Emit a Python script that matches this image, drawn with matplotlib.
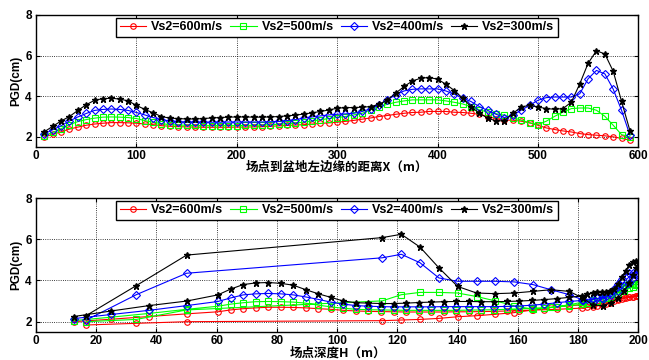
import matplotlib
matplotlib.use("Agg")
import matplotlib.pyplot as plt

# ====== DATA ======
# distance to the left basin edge X (m), one point per site
dist_x = [8.3, 16.7, 25.0, 33.3, 41.7, 50.0, 58.3, 66.7, 75.0, 83.3,
          91.7, 100.0, 108.3, 116.7, 125.0, 133.3, 141.7, 150.0, 158.3, 166.7,
          175.0, 183.3, 191.7, 200.0, 208.3, 216.7, 225.0, 233.3, 241.7, 250.0,
          258.3, 266.7, 275.0, 283.3, 291.7, 300.0, 308.3, 316.7, 325.0, 333.3,
          341.7, 350.0, 358.3, 366.7, 375.0, 383.3, 391.7, 400.0, 408.3, 416.7,
          425.0, 433.3, 441.7, 450.0, 458.3, 466.7, 475.0, 483.3, 491.7, 500.0,
          508.3, 516.7, 525.0, 533.3, 541.7, 550.0, 558.3, 566.7, 575.0, 583.3,
          591.7]

# depth H (m) at the same sites
depth_h = [12.5, 25.0, 37.5, 50.0, 60.4, 64.6, 68.8, 72.9, 77.1, 81.3,
           85.4, 89.6, 93.8, 97.9, 102.1, 106.3, 110.4, 114.6, 118.8, 122.9,
           127.1, 131.3, 135.4, 139.6, 143.8, 147.9, 152.1, 156.3, 160.4, 164.6,
           168.8, 172.9, 177.1, 181.3, 183.1, 184.8, 186.4, 187.9, 189.3, 190.6,
           191.9, 193.2, 194.5, 195.8, 197.0, 198.1, 199.1, 200.0, 199.3, 198.3,
           197.0, 195.4, 193.4, 191.0, 188.2, 185.0, 181.5, 177.1, 171.0, 165.0,
           158.8, 152.5, 146.3, 140.0, 133.8, 127.5, 121.3, 115.0, 50.0, 33.3,
           16.7]

pgd_600 = [2.0, 2.12, 2.25, 2.38, 2.48, 2.57, 2.63, 2.67, 2.7, 2.7,
           2.69, 2.67, 2.63, 2.6, 2.55, 2.52, 2.5, 2.49, 2.48, 2.47,
           2.47, 2.47, 2.47, 2.48, 2.48, 2.49, 2.5, 2.52, 2.54, 2.56,
           2.58, 2.6, 2.63, 2.66, 2.69, 2.72, 2.76, 2.81, 2.87, 2.93,
           3.0, 3.05, 3.11, 3.16, 3.2, 3.21, 3.25, 3.25, 3.25, 3.21,
           3.2, 3.16, 3.11, 3.0, 2.9, 2.82, 2.82, 2.77, 2.69, 2.57,
           2.44, 2.36, 2.29, 2.24, 2.16, 2.11, 2.08, 2.05, 2.0, 1.92,
           1.84]

pgd_500 = [2.05, 2.22, 2.4, 2.6, 2.75, 2.85, 2.92, 2.97, 2.98, 2.97,
           2.95, 2.9, 2.8, 2.72, 2.65, 2.6, 2.58, 2.57, 2.56, 2.55,
           2.55, 2.55, 2.55, 2.55, 2.56, 2.57, 2.58, 2.6, 2.62, 2.65,
           2.68, 2.72, 2.78, 2.84, 2.9, 2.95, 3.0, 3.08, 3.16, 3.33,
           3.49, 3.6, 3.7, 3.77, 3.82, 3.82, 3.82, 3.82, 3.77, 3.7,
           3.62, 3.49, 3.33, 3.22, 3.14, 3.06, 2.95, 2.82, 2.69, 2.6,
           2.77, 3.01, 3.22, 3.39, 3.42, 3.42, 3.31, 3.01, 2.57, 2.11,
           2.0]

pgd_400 = [2.15, 2.35, 2.55, 2.78, 2.98, 3.15, 3.3, 3.35, 3.37, 3.35,
           3.3, 3.2, 3.08, 2.95, 2.85, 2.78, 2.75, 2.73, 2.72, 2.72,
           2.72, 2.72, 2.73, 2.73, 2.73, 2.73, 2.73, 2.74, 2.76, 2.8,
           2.85, 2.92, 2.98, 3.03, 3.08, 3.11, 3.13, 3.16, 3.25, 3.38,
           3.57, 3.82, 4.07, 4.26, 4.34, 4.36, 4.36, 4.36, 4.26, 4.1,
           3.9, 3.74, 3.49, 3.3, 3.11, 2.95, 3.06, 3.31, 3.55, 3.8,
           3.93, 3.96, 3.96, 3.96, 4.12, 4.86, 5.27, 5.1, 4.35, 3.31,
           2.08]

pgd_300 = [2.25, 2.52, 2.78, 3.0, 3.3, 3.58, 3.8, 3.88, 3.9, 3.86,
           3.77, 3.55, 3.35, 3.18, 3.0, 2.92, 2.9, 2.88, 2.88, 2.9,
           2.93, 2.95, 2.97, 2.98, 2.98, 2.97, 2.97, 2.98, 3.0, 3.03,
           3.07, 3.12, 3.18, 3.25, 3.32, 3.41, 3.44, 3.44, 3.46, 3.49,
           3.6, 3.82, 4.15, 4.48, 4.75, 4.89, 4.92, 4.84, 4.59, 4.28,
           3.9, 3.49, 3.16, 2.92, 2.78, 2.8, 3.15, 3.47, 3.55, 3.47,
           3.39, 3.36, 3.39, 3.71, 4.61, 5.62, 6.24, 6.08, 5.23, 3.75,
           2.3]

series = [
    ("Vs2=600m/s", pgd_600, "#ff0000", "o"),
    ("Vs2=500m/s", pgd_500, "#00ff00", "s"),
    ("Vs2=400m/s", pgd_400, "#0000ff", "D"),
    ("Vs2=300m/s", pgd_300, "#000000", "*"),
]

# ====== STYLE ======
plt.rcParams["font.family"] = ["Liberation Sans", "Noto Sans CJK SC"]
plt.rcParams["font.weight"] = "bold"
CJK = ["Noto Sans CJK SC", "Liberation Sans"]


def style_axes(ax, xmax, xstep):
    ax.set_xlim(0, xmax)
    ax.set_ylim(1.5, 8)
    ax.set_xticks(range(0, xmax + 1, xstep))
    ax.set_yticks([2, 4, 6, 8])
    ax.tick_params(direction="in", length=3, width=0.8, top=True, right=True,
                   labelsize=8.5, pad=3)
    ax.tick_params(axis="x", pad=2.5)
    for lab in ax.get_xticklabels() + ax.get_yticklabels():
        lab.set_fontweight("bold")
    ax.grid(True, color="k", linestyle=":", linewidth=0.6)
    for sp in ax.spines.values():
        sp.set_linewidth(1.0)
    ax.set_ylabel("PGD(cm)", fontsize=8.5, fontweight="bold", labelpad=2)
    ax.legend(loc="upper center", bbox_to_anchor=(0.5, 0.99), ncol=4,
              frameon=True, fancybox=False, framealpha=1,
              edgecolor="k", borderpad=0.3, handlelength=2.1,
              handletextpad=0.4, columnspacing=0.55, borderaxespad=0.1,
              prop={"weight": "bold", "size": 9})


def draw(ax, xs):
    for label, vals, color, mk in series:
        if mk == "*":
            ax.plot(xs, vals, color=color, marker=mk, markersize=4.5,
                    linewidth=0.8, label=label)
        else:
            ax.plot(xs, vals, color=color, marker=mk, markersize=4.0,
                    markerfacecolor="none", markeredgewidth=0.8,
                    linewidth=0.8, label=label)


fig = plt.figure(figsize=(6.49, 3.6), dpi=100)
ax1 = fig.add_axes([0.0555, 0.5917, 0.928, 0.3667])
ax2 = fig.add_axes([0.0555, 0.0778, 0.928, 0.3722])

# top: PGD vs distance
draw(ax1, dist_x)
style_axes(ax1, 600, 100)
ax1.set_xlabel("场点到盆地左边缘的距离X（m）", family=CJK, fontsize=9,
               fontweight="bold", labelpad=-1)

# bottom: same sites vs depth
draw(ax2, depth_h)
style_axes(ax2, 200, 20)
# label sits on the very bottom edge, as in the original figure
fig.text(0.52, 0.002, "场点深度H（m）", family=CJK, fontsize=9,
         fontweight="bold", ha="center", va="bottom")

fig.savefig("out.png", dpi=100)
plt.close(fig)
